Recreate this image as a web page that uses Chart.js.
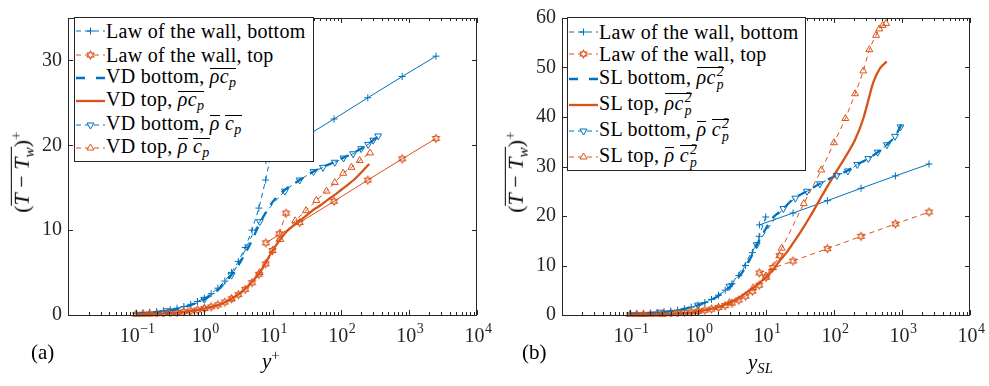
<!DOCTYPE html>
<html><head><meta charset="utf-8">
<script src="https://cdn.jsdelivr.net/npm/chart.js@4"></script>
<style>
body{margin:0;background:#fff;}
#wrap{position:relative;width:989px;height:386px;overflow:hidden;background:#fff;font-family:'Liberation Serif',serif;color:#000;}
canvas{position:absolute;top:0;}
#cA{left:0}
#cB{left:494px}
.legend{position:absolute;background:#fff;border:1px solid #262626;box-sizing:border-box;z-index:2;}
.row{position:absolute;left:1px;height:24px;display:flex;align-items:center;white-space:nowrap;font-size:20px;letter-spacing:0.3px;}
.row svg{flex:none;margin-right:1px;}
.olt{position:relative;}
.olt::before{content:'';position:absolute;left:0;right:0;top:2px;border-top:1px solid #000;}
.sb{font-size:0.7em;vertical-align:-0.3em;font-style:italic;}
.ss{display:inline-block;vertical-align:-0.4em;font-size:0.68em;line-height:0.95;font-style:italic;margin-left:1px;}
.ss>span{display:block;}
.lbl{position:absolute;z-index:2;white-space:nowrap;font-size:21px;line-height:1;}
.ytitle{position:absolute;z-index:2;white-space:nowrap;font-size:22px;line-height:1;transform:translate(-50%,-50%) rotate(-90deg);}
.ovl{position:absolute;z-index:3;height:1px;background:#000;}
</style>
</head><body>
<div id="wrap">
<canvas id="cA" width="494" height="386"></canvas>
<canvas id="cB" width="495" height="386"></canvas>

<div class="ytitle" style="left:22px;top:172px">(<span class="olt"><i>T</i> − <i>T</i><span class="sb">w</span></span>)<sup style="font-size:0.7em">+</sup></div>
<div class="ytitle" style="left:516px;top:172px">(<span class="olt"><i>T</i> − <i>T</i><span class="sb">w</span></span>)<sup style="font-size:0.7em">+</sup></div>
<div class="lbl" style="left:262px;top:348px"><i>y</i><sup style="font-size:0.7em">+</sup></div>
<div class="lbl" style="left:748px;top:352px"><i>y</i><span class="sb">SL</span></div>
<div class="lbl" style="left:31px;top:342px">(a)</div>
<div class="lbl" style="left:522px;top:342px">(b)</div>

<div class="legend" id="legA" style="left:74px;top:17px;width:240px;height:145px"></div>
<div class="legend" id="legB" style="left:567px;top:17px;width:239px;height:154px"></div>
</div>
<script>
const C_BLUE = '#0072BD', C_ORANGE = '#D95319';

// ---------- tick labels ----------
const xTickVals = [0.1, 1, 10, 100, 1000, 10000];
const xTickExps = ['−1', '0', '1', '2', '3', '4'];
const yTickValsA = [0, 10, 20, 30];
const yTickValsB = [0, 10, 20, 30, 40, 50, 60];

// ---------- law of the wall (shared by both panels) ----------
const lawBotViscX = [0.1,0.126,0.158,0.2,0.251,0.316,0.398,0.501,0.631,0.794,1,1.26,1.58,2,2.51,3.16,3.98,5.01,6.31,7.94,9.9];
const lawBotViscY = [0.2,0.25,0.32,0.4,0.5,0.63,0.8,1.0,1.26,1.59,2.0,2.52,3.16,4.0,5.02,6.32,7.96,10.0,12.6,15.9,19.8];
const lawTopViscX = [0.1,0.126,0.158,0.2,0.251,0.316,0.398,0.501,0.631,0.794,1,1.26,1.58,2,2.51,3.16,3.98,5.01,6.31,7.94,10,12.6,15.8];
const lawTopViscY = [0.08,0.1,0.12,0.15,0.19,0.24,0.3,0.38,0.48,0.6,0.76,0.96,1.2,1.52,1.91,2.4,3.02,3.81,4.8,6.03,7.6,9.57,12.0];
const lawBotLogX = [8,25,80,250,800,2500];
const lawBotLogY = [18.2,20.6,23.1,25.6,28.1,30.5];
const lawTopLogX = [8,25,80,250,800,2500];
const lawTopLogY = [8.5,10.9,13.4,15.9,18.4,20.8];

// ---------- panel (a): VD ----------
const vdBotX = [0.1,0.2,0.3,0.5,0.7,1,1.5,2,3,4,5,6.5,8,10,13,16,20,25,30,40,50,65,80,100,130,160,200,250,300,350];
const vdBotY = [0.15,0.35,0.55,0.9,1.3,1.85,2.8,3.8,5.6,7.3,8.8,10.8,12.1,13.3,14.3,14.9,15.4,15.9,16.3,16.9,17.3,17.7,18.0,18.4,18.8,19.2,19.6,20.1,20.6,21.0];
const vdTopX = [0.1,0.2,0.3,0.5,0.7,1,1.5,2,3,4,5,6.5,8,10,13,16,20,25,30,40,50,65,80,100,130,160,200,263];
const vdTopY = [0.08,0.15,0.23,0.38,0.53,0.76,1.1,1.5,2.3,3.1,3.9,5.0,6.2,7.6,8.9,9.8,10.5,11.1,11.6,12.4,12.9,13.6,14.1,14.7,15.4,16.0,16.8,17.8];
const vdBotTriX = [0.28,1,2.5,6.5,15.2,25,40,55,82,110,152,200,253,300,355];
const vdBotTriY = [0.5,1.85,4.7,11.0,14.6,15.9,16.9,17.4,18.0,18.5,19.0,19.6,20.1,20.6,21.1];
const vdTopTriX = [0.3,1,2.5,6.5,13,21.5,31,44,62,82,109,144,190,270];
const vdTopTriY = [0.23,0.76,1.9,5.0,8.9,11.1,12.3,13.5,14.6,15.6,16.7,17.4,18.2,19.1];

// ---------- panel (b): SL ----------
const slBotX = [0.1,0.2,0.3,0.5,0.7,1,1.5,2,3,4,5,6.5,8,10,12,15,18,25,40,65,110,160,220,320,440,600,790,1000];
const slBotY = [0.2,0.4,0.6,1.0,1.4,2.0,2.9,3.9,5.8,7.7,9.6,12.6,15.2,17.5,19.3,20.6,21.5,23.4,25.0,26.7,28.2,29.2,30.4,31.6,32.9,34.4,36.1,38.7];
const slTopX = [0.1,0.2,0.3,0.5,0.7,1,1.5,2,3,4,5,6.5,8,10,13,16,20,25,33,45,60,80,103,145,204,270,320,378,474,596];
const slTopY = [0.05,0.1,0.15,0.3,0.45,0.75,1.2,1.6,2.6,3.5,4.4,5.5,6.5,7.6,9.3,11.0,12.6,14.5,17.0,20.0,23.0,26.0,28.5,31.8,35.4,39.7,43.4,47.0,49.8,51.2];
const slBotTriX = [0.28,1,2.9,7.3,18,27,40,62,110,160,220,320,440,600,790,950];
const slBotTriY = [0.56,2.0,5.8,14.2,21.5,23.6,25.0,26.5,28.2,29.1,30.4,31.6,32.9,34.4,36.1,38.0];
const slTopTriX = [0.3,1,2.9,6.5,10,17,36,65,100,147,204,270,331,415,464,520,582];
const slTopTriY = [0.15,0.75,2.5,5.5,7.9,13.5,22.5,29.3,34.8,39.7,44.7,49.3,53.6,56.5,57.8,58.5,58.9];

function pts(xs, ys){ return xs.map((x,i)=>({x:x, y:ys[i]})); }

const FONT_FAMILY = "'Liberation Serif', serif";
const AXC = '#262626';
const HEX_R = 3.8;

function hexagram(color){
  const c=document.createElement('canvas'); c.width=11; c.height=11;
  const g=c.getContext('2d'); g.strokeStyle=color; g.lineWidth=1.1;
  g.beginPath();
  const R=HEX_R, r=R*0.577;
  for(let i=0;i<12;i++){
    const a=-Math.PI/2 + i*Math.PI/6; const rr=(i%2)?r:R;
    const px=5.5+rr*Math.cos(a), py=5.5+rr*Math.sin(a);
    if(i) g.lineTo(px,py); else g.moveTo(px,py);
  }
  g.closePath(); g.stroke();
  return c;
}
const HEX = hexagram(C_ORANGE);

const THIN_DASH=[5,4], THICK_DASH=[9,8];

function lawSets(topLogDashed){
  return [
    {data:pts(lawBotViscX,lawBotViscY), borderColor:C_BLUE, borderWidth:1, borderDash:THIN_DASH, pointStyle:'cross', pointRadius:3.5, pointBorderWidth:1, pointBorderColor:C_BLUE, tension:0},
    {data:pts(lawBotLogX,lawBotLogY), borderColor:C_BLUE, borderWidth:1, pointStyle:'cross', pointRadius:3.5, pointBorderWidth:1, pointBorderColor:C_BLUE, tension:0},
    {data:pts(lawTopViscX,lawTopViscY), borderColor:C_ORANGE, borderWidth:1, borderDash:THIN_DASH, pointStyle:HEX, pointRadius:4, tension:0},
    {data:pts(lawTopLogX,lawTopLogY), borderColor:C_ORANGE, borderWidth:1, borderDash: topLogDashed?THIN_DASH:[], pointStyle:HEX, pointRadius:4, tension:0},
  ];
}
function curveSets(bx,by,tx,ty,btx,bty,ttx,tty){
  return [
    {data:pts(bx,by), borderColor:C_BLUE, borderWidth:2.3, borderDash:THICK_DASH, pointRadius:0, cubicInterpolationMode:'monotone'},
    {data:pts(tx,ty), borderColor:C_ORANGE, borderWidth:2.3, pointRadius:0, cubicInterpolationMode:'monotone'},
    {data:pts(btx,bty), borderColor:C_BLUE, borderWidth:1, borderDash:THIN_DASH, pointStyle:'triangle', rotation:180, pointRadius:4, pointBorderWidth:1, pointBorderColor:C_BLUE, pointBackgroundColor:'rgba(0,0,0,0)', cubicInterpolationMode:'monotone'},
    {data:pts(ttx,tty), borderColor:C_ORANGE, borderWidth:1, borderDash:THIN_DASH, pointStyle:'triangle', pointRadius:4, pointBorderWidth:1, pointBorderColor:C_ORANGE, pointBackgroundColor:'rgba(0,0,0,0)', cubicInterpolationMode:'monotone'},
  ];
}

const frame = {
  id:'frame',
  afterDatasetsDraw(chart){
    const ctx=chart.ctx, a=chart.chartArea, xs=chart.scales.x, ys=chart.scales.y;
    ctx.save();
    ctx.strokeStyle=AXC; ctx.lineWidth=1;
    ctx.strokeRect(Math.round(a.left)+0.5, Math.round(a.top)+0.5, Math.round(a.right-a.left)-1, Math.round(a.bottom-a.top));
    ctx.beginPath();
    for(let d=-2; d<=4; d++){
      for(let k=1;k<=9;k++){
        if(d===4 && k>1) break;
        const v=k*Math.pow(10,d);
        const px=Math.round(xs.getPixelForValue(v))+0.5;
        const L = k===1?5:3;
        ctx.moveTo(px,a.bottom); ctx.lineTo(px,a.bottom-L);
        ctx.moveTo(px,a.top); ctx.lineTo(px,a.top+L);
      }
    }
    ys.ticks.forEach(t=>{
      const py=Math.round(ys.getPixelForValue(t.value))+0.5;
      ctx.moveTo(a.left,py); ctx.lineTo(a.left+5,py);
      ctx.moveTo(a.right,py); ctx.lineTo(a.right-5,py);
    });
    ctx.stroke();
    // x tick labels: 10 with raised exponent
    ctx.fillStyle=AXC;
    ctx.textBaseline='alphabetic';
    ctx.textAlign='left';
    xTickVals.forEach((v,i)=>{
      const px=xs.getPixelForValue(v);
      ctx.font='20px '+FONT_FAMILY;
      const wb=ctx.measureText('10').width;
      ctx.font='14px '+FONT_FAMILY;
      const we=ctx.measureText(xTickExps[i]).width;
      const x0=px-(wb+we)/2+1;
      ctx.font='20px '+FONT_FAMILY;
      ctx.fillText('10', x0, a.bottom+27);
      ctx.font='14px '+FONT_FAMILY;
      ctx.fillText(xTickExps[i], x0+wb+0.5, a.bottom+18);
    });
    ctx.restore();
  }
};

function makeChart(id, datasets, ymax, yTicks, padRight){
  datasets.forEach((d,i)=>{ d.order = 20-i; d.fill=false; d.clip=2; });
  return new Chart(document.getElementById(id), {
    type:'line',
    data:{datasets:datasets},
    options:{
      responsive:false, animation:false, devicePixelRatio:1,
      layout:{padding:{left:0, right:padRight, top:13, bottom:0}},
      plugins:{legend:{display:false}, tooltip:{enabled:false}},
      elements:{line:{borderCapStyle:'butt'}},
      scales:{
        x:{type:'logarithmic', min:0.01, max:10000,
           grid:{display:false, drawTicks:false}, border:{display:false},
           afterBuildTicks:(s)=>{ s.ticks = xTickVals.map(v=>({value:v, major:true})); },
           afterFit:(s)=>{ s.height = 71; },
           ticks:{display:false}},
        y:{type:'linear', min:0, max:ymax,
           grid:{display:false, drawTicks:false}, border:{display:false},
           afterBuildTicks:(s)=>{ s.ticks = yTicks.map(v=>({value:v})); },
           afterFit:(s)=>{ s.width = 68; },
           ticks:{padding:6, color:AXC, font:{family:FONT_FAMILY, size:20}}}
      }
    },
    plugins:[frame]
  });
}

makeChart('cA', lawSets(false).concat(curveSets(vdBotX,vdBotY,vdTopX,vdTopY,vdBotTriX,vdBotTriY,vdTopTriX,vdTopTriY)), 35, yTickValsA, 17);
makeChart('cB', lawSets(true).concat(curveSets(slBotX,slBotY,slTopX,slTopY,slBotTriX,slBotTriY,slTopTriX,slTopTriY)), 60, yTickValsB, 19);

// ---------- legends ----------
function sample(kind){
  const W=29, H=14, y=7, cx=14.5;
  let line='', mark='';
  const thin='stroke-width="1" stroke-dasharray="5,4"';
  if(kind==='lawB'){ line=`<line x1="0" y1="${y}" x2="${W}" y2="${y}" stroke="${C_BLUE}" ${thin}/>`;
    mark=`<path d="M${cx-3.5} ${y}H${cx+3.5}M${cx} ${y-3.5}V${y+3.5}" stroke="${C_BLUE}" stroke-width="1"/>`; }
  if(kind==='lawT'){ line=`<line x1="0" y1="${y}" x2="${W}" y2="${y}" stroke="${C_ORANGE}" ${thin}/>`;
    let p=''; const R=HEX_R, r=R*0.577;
    for(let i=0;i<12;i++){const a=-Math.PI/2+i*Math.PI/6, rr=(i%2)?r:R; p+=(i?'L':'M')+(cx+rr*Math.cos(a)).toFixed(2)+' '+(y+rr*Math.sin(a)).toFixed(2);}
    mark=`<path d="${p}Z" fill="#fff" stroke="${C_ORANGE}" stroke-width="1.1"/>`; }
  if(kind==='thickB'){ line=`<line x1="0" y1="${y}" x2="${W}" y2="${y}" stroke="${C_BLUE}" stroke-width="2.3" stroke-dasharray="9,11"/>`; }
  if(kind==='solidT'){ line=`<line x1="0" y1="${y}" x2="${W}" y2="${y}" stroke="${C_ORANGE}" stroke-width="2.3"/>`; }
  if(kind==='triB'){ line=`<line x1="0" y1="${y}" x2="${W}" y2="${y}" stroke="${C_BLUE}" ${thin}/>`;
    mark=`<path d="M${cx-3.5} ${y-2}L${cx+3.5} ${y-2}L${cx} ${y+4}Z" fill="#fff" stroke="${C_BLUE}" stroke-width="1"/>`; }
  if(kind==='triT'){ line=`<line x1="0" y1="${y}" x2="${W}" y2="${y}" stroke="${C_ORANGE}" ${thin}/>`;
    mark=`<path d="M${cx-3.5} ${y+2}L${cx+3.5} ${y+2}L${cx} ${y-4}Z" fill="#fff" stroke="${C_ORANGE}" stroke-width="1"/>`; }
  return `<svg width="${W}" height="${H}" viewBox="0 0 ${W} ${H}">${line}${mark}</svg>`;
}
const legAItems = [
  ['lawB','Law of the wall, bottom'],
  ['lawT','Law of the wall, top'],
  ['thickB','VD bottom, <span class="ol"><i>ρc</i><span class="sb">p</span></span>'],
  ['solidT','VD top, <span class="ol"><i>ρc</i><span class="sb">p</span></span>'],
  ['triB','VD bottom, <span class="ol"><i>ρ</i></span> <span class="ol"><i>c</i><span class="sb">p</span></span>'],
  ['triT','VD top, <span class="ol"><i>ρ</i></span> <span class="ol"><i>c</i><span class="sb">p</span></span>']
];
const legARows = [13, 37, 60, 83, 107, 130];
const cp2 = '<i>c</i><span class="ss"><span>2</span><span>p</span></span>';
const legBItems = [
  ['lawB','Law of the wall, bottom'],
  ['lawT','Law of the wall, top'],
  ['thickB','SL bottom, <span class="ol2"><i>ρ</i>'+cp2+'</span>'],
  ['solidT','SL top, <span class="ol2"><i>ρ</i>'+cp2+'</span>'],
  ['triB','SL bottom, <span class="ol"><i>ρ</i></span> <span class="ol2">'+cp2+'</span>'],
  ['triT','SL top, <span class="ol"><i>ρ</i></span> <span class="ol2">'+cp2+'</span>']
];
const legBRows = [14, 36, 61, 87, 113, 139];
function buildLegend(id, items, rows){
  const el=document.getElementById(id);
  el.innerHTML = items.map((it,i)=>`<div class="row" style="top:${rows[i]-12}px">${sample(it[0])}<span>${it[1]}</span></div>`).join('');
}
buildLegend('legA', legAItems, legARows);
buildLegend('legB', legBItems, legBRows);

// overlines for legend math, placed from the laid-out text
(function addOverlines(){
  const wrap=document.getElementById('wrap');
  const wr=wrap.getBoundingClientRect();
  document.querySelectorAll('.legend .ol, .legend .ol2').forEach(el=>{
    const r=el.getBoundingClientRect();
    let y;
    if(el.classList.contains('ol2')){
      const s=el.querySelector('.ss>span').getBoundingClientRect();
      y=s.top+0.5;
    } else {
      y=r.top+3.5;
    }
    const d=document.createElement('div');
    d.className='ovl';
    d.style.left=(r.left-wr.left)+'px';
    d.style.width=r.width+'px';
    d.style.top=Math.round(y-wr.top)+'px';
    wrap.appendChild(d);
  });
})();
</script>
</body></html>
